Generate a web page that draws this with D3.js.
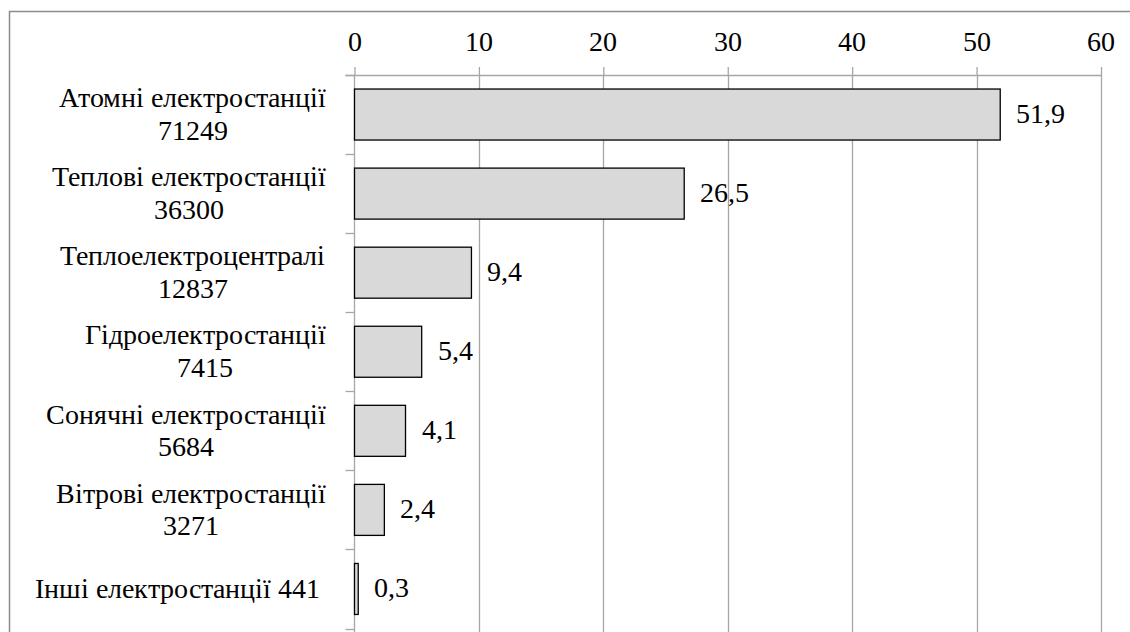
<!DOCTYPE html>
<html>
<head>
<meta charset="utf-8">
<script src="https://cdn.jsdelivr.net/npm/d3@7"></script>
<style>
  @font-face {
    font-family: "ChartSerif";
    src: local("Liberation Serif"), local("LiberationSerif"), local("LiberationSerif-Regular"), local("Tinos"), local("Times New Roman");
  }
  text { font-family: "ChartSerif", "Liberation Serif", Tinos, "Times New Roman", serif; }
</style>
</head>
<body style="margin:0">
<svg id="chart" width="1130" height="632" style="display:block"></svg>
<script>
// Power plant types, installed capacity (MW) and share of total (%)
const categories = [
  "Атомні електростанції",
  "Теплові електростанції",
  "Теплоелектроцентралі",
  "Гідроелектростанції",
  "Сонячні електростанції",
  "Вітрові електростанції",
  "Інші електростанції"
];
const capacities = [71249, 36300, 12837, 7415, 5684, 3271, 441];
const shares = [51.9, 26.5, 9.4, 5.4, 4.1, 2.4, 0.3];
const xTicks = [0, 10, 20, 30, 40, 50, 60];

const svg = d3.select("#chart");
const W = 1130, H = 632;
const FONT_PX = 28;
const gridColor = "#a6a6a6";

const plot = { left: 354.5, right: 1101, top: 75, bottom: 628.5 };

// width of a string in the label font, measured on a canvas
const ctx = document.createElement("canvas").getContext("2d");
ctx.font = `${FONT_PX}px "Liberation Serif", Tinos, "Times New Roman", serif`;
const textWidth = s => ctx.measureText(s).width;

const addText = (str, px, py, anchor) => svg.append("text")
  .attr("x", px).attr("y", py)
  .attr("text-anchor", anchor)
  .style("font-size", FONT_PX + "px")
  .attr("fill", "#000")
  .text(str);

// chart area frame
svg.append("rect")
  .attr("x", 9.5).attr("y", 11.5)
  .attr("width", W + 20).attr("height", H + 20)
  .attr("fill", "none").attr("stroke", "#8c8c8c").attr("stroke-width", 1.5);

const x = d3.scaleLinear().domain([0, 60]).range([plot.left, plot.right]);
const y = d3.scaleBand().domain(categories).range([plot.top, plot.bottom])
  .paddingInner(0.355).paddingOuter(0.1775);

// vertical gridlines
svg.append("g").selectAll("line").data(xTicks.slice(1)).join("line")
  .attr("x1", d => Math.round(x(d)) + 0.5).attr("x2", d => Math.round(x(d)) + 0.5)
  .attr("y1", plot.top).attr("y2", H + 5)
  .attr("stroke", gridColor).attr("stroke-width", 1.3);

// value axis on top: tick marks from the axis, labels placed by the scale
const xAxis = d3.axisTop(x).tickValues(xTicks).tickSize(8).tickFormat("");
const gx = svg.append("g").attr("transform", `translate(0,${plot.top})`).call(xAxis);
gx.select(".domain").remove();
gx.selectAll(".tick line").attr("stroke", gridColor).attr("stroke-width", 1.3);
gx.selectAll(".tick text").remove();
xTicks.forEach(t => addText(d3.format("d")(t), x(t), plot.top - 24.5, "middle"));

svg.append("line")
  .attr("x1", plot.left - 9).attr("x2", plot.right)
  .attr("y1", plot.top + 0.5).attr("y2", plot.top + 0.5)
  .attr("stroke", gridColor).attr("stroke-width", 1.3);

// category axis line and boundary ticks
const step = y.step();
const boundaries = d3.range(categories.length + 1).map(i => plot.top + i * step);
svg.append("line")
  .attr("x1", plot.left).attr("x2", plot.left)
  .attr("y1", plot.top).attr("y2", H + 5)
  .attr("stroke", gridColor).attr("stroke-width", 1.3);
svg.append("g").selectAll("line").data(boundaries).join("line")
  .attr("x1", plot.left - 9).attr("x2", plot.left)
  .attr("y1", d => Math.round(d) + 0.5).attr("y2", d => Math.round(d) + 0.5)
  .attr("stroke", gridColor).attr("stroke-width", 1.3);

// bars
svg.append("g").selectAll("rect").data(shares).join("rect")
  .attr("x", x(0))
  .attr("y", (d, i) => y(categories[i]))
  .attr("width", d => x(d) - x(0))
  .attr("height", y.bandwidth())
  .attr("fill", "#d9d9d9").attr("stroke", "#000").attr("stroke-width", 1.3);

// value labels
const fmt = v => d3.format(".1f")(v).replace(".", ",");
shares.forEach((v, i) => {
  addText(fmt(v), x(v) + 16, y(categories[i]) + y.bandwidth() / 2 + 0.3 * FONT_PX, "start");
});

// category labels: name and capacity, wrapped onto two lines when too long
const labelRight = plot.left - 28;
const maxChars = 23;
const lineHeight = 32.5;
categories.forEach((name, i) => {
  const full = `${name} ${capacities[i]}`;
  const lines = full.length <= maxChars ? [full] : [name, String(capacities[i])];
  const blockW = d3.max(lines, textWidth);
  const right = lines.length === 1 ? labelRight - 6 : labelRight;
  const cx = right - blockW / 2;
  const cy = y(name) + y.bandwidth() / 2;
  lines.forEach((ln, k) => {
    addText(ln, cx, cy + (k - (lines.length - 1) / 2) * lineHeight + 0.32 * FONT_PX, "middle");
  });
});
</script>
</body>
</html>
